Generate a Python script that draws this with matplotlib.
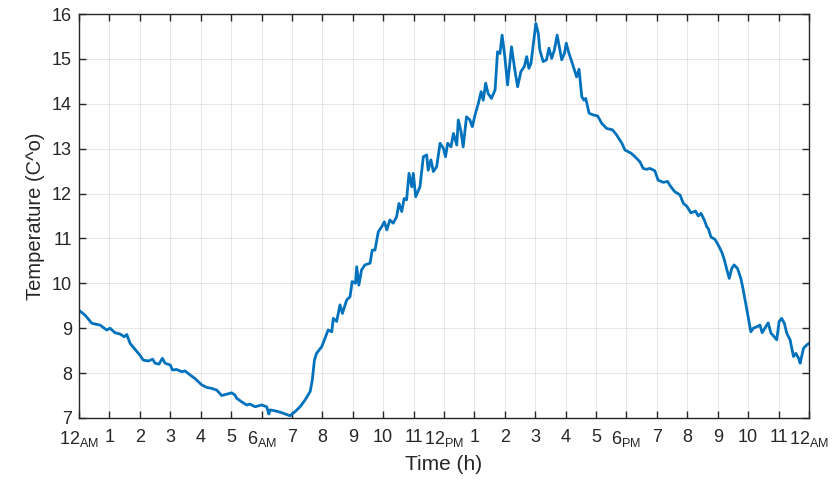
import matplotlib.pyplot as plt
import numpy as np

plt.rcParams['font.family'] = ['Liberation Sans', 'DejaVu Sans']
plt.rcParams['mathtext.fontset'] = 'custom'
plt.rcParams['mathtext.rm'] = 'Liberation Sans'

# time of day (hours) and temperature
heures = [
    0.0, 0.2, 0.42, 0.69, 0.91, 1.02, 1.18, 1.35, 1.49, 1.57, 1.68, 1.84,
    2.0, 2.11, 2.28, 2.42, 2.5, 2.63, 2.74, 2.83, 3.0, 3.07, 3.21, 3.38,
    3.48, 3.65, 3.81, 3.92, 4.03, 4.2, 4.36, 4.53, 4.69, 4.86, 5.02, 5.13,
    5.18, 5.35, 5.51, 5.62, 5.79, 6.0, 6.17, 6.24, 6.28, 6.44, 6.61, 6.77,
    6.94, 7.1, 7.27, 7.43, 7.6, 7.67, 7.74, 7.81, 7.98, 8.09, 8.19, 8.31,
    8.36, 8.47, 8.58, 8.66, 8.8, 8.91, 8.98, 9.09, 9.13, 9.2, 9.29, 9.4,
    9.57, 9.64, 9.73, 9.84, 9.95, 10.04, 10.12, 10.22, 10.33, 10.44, 10.52,
    10.61, 10.69, 10.77, 10.85, 10.94, 10.99, 11.07, 11.21, 11.32, 11.43,
    11.48, 11.57, 11.65, 11.76, 11.87, 11.98, 12.05, 12.12, 12.23, 12.31,
    12.42, 12.47, 12.56, 12.63, 12.74, 12.85, 12.93, 13.02, 13.13, 13.22,
    13.29, 13.37, 13.45, 13.56, 13.68, 13.76, 13.84, 13.91, 14.0, 14.09,
    14.22, 14.33, 14.42, 14.53, 14.64, 14.72, 14.79, 14.86, 14.94, 15.02,
    15.1, 15.15, 15.26, 15.37, 15.45, 15.54, 15.63, 15.72, 15.79, 15.87,
    15.96, 16.02, 16.11, 16.2, 16.31, 16.36, 16.44, 16.53, 16.6, 16.66,
    16.77, 16.91, 17.05, 17.19, 17.35, 17.54, 17.68, 17.85, 17.95, 18.15,
    18.28, 18.44, 18.55, 18.66, 18.77, 18.93, 19.04, 19.21, 19.35, 19.46,
    19.59, 19.76, 19.87, 19.98, 20.12, 20.27, 20.36, 20.45, 20.56, 20.64,
    20.69, 20.78, 20.91, 21.02, 21.13, 21.22, 21.29, 21.38, 21.46, 21.54,
    21.65, 21.76, 21.84, 21.92, 22.0, 22.09, 22.17, 22.28, 22.39, 22.46,
    22.55, 22.66, 22.75, 22.86, 22.94, 23.02, 23.1, 23.19, 23.27, 23.38,
    23.49, 23.57, 23.66, 23.71, 23.82, 23.93, 24.0,
]
temperature = [
    9.40, 9.29, 9.11, 9.07, 8.96, 9.00, 8.90, 8.87, 8.81, 8.86, 8.66, 8.53,
    8.40, 8.29, 8.27, 8.31, 8.22, 8.20, 8.33, 8.22, 8.18, 8.07, 8.08, 8.03,
    8.05, 7.96, 7.88, 7.81, 7.74, 7.68, 7.66, 7.62, 7.50, 7.53, 7.56, 7.51,
    7.44, 7.36, 7.29, 7.31, 7.25, 7.29, 7.25, 7.09, 7.18, 7.16, 7.13, 7.09,
    7.05, 7.14, 7.25, 7.40, 7.59, 7.85, 8.29, 8.44, 8.59, 8.78, 8.96, 8.92,
    9.22, 9.15, 9.52, 9.33, 9.63, 9.70, 10.04, 10.00, 10.37, 9.96, 10.30, 10.41,
    10.45, 10.74, 10.74, 11.15, 11.26, 11.37, 11.19, 11.41, 11.34, 11.48, 11.78,
    11.60, 11.89, 11.86, 12.45, 12.15, 12.45, 11.93, 12.15, 12.82, 12.86,
    12.52, 12.75, 12.49, 12.60, 13.12, 13.01, 12.82, 13.12, 13.04, 13.34,
    13.08, 13.64, 13.38, 13.04, 13.71, 13.64, 13.49, 13.75, 14.01, 14.27,
    14.08, 14.46, 14.23, 14.12, 14.31, 15.16, 15.12, 15.53, 15.05, 14.42,
    15.27, 14.75, 14.38, 14.72, 14.83, 15.05, 14.79, 14.90, 15.35, 15.79,
    15.57, 15.20, 14.94, 14.98, 15.24, 15.01, 15.20, 15.53, 15.27, 14.98,
    15.12, 15.35, 15.12, 14.94, 14.71, 14.60, 14.77, 14.16, 14.08, 14.12,
    13.79, 13.75, 13.73, 13.56, 13.45, 13.42, 13.30, 13.12, 12.97, 12.90,
    12.82, 12.71, 12.56, 12.54, 12.56, 12.51, 12.30, 12.25, 12.27, 12.15,
    12.04, 11.97, 11.78, 11.72, 11.57, 11.61, 11.50, 11.56, 11.41, 11.26,
    11.22, 11.03, 10.98, 10.85, 10.70, 10.52, 10.33, 10.11, 10.33, 10.41,
    10.33, 10.11, 9.85, 9.55, 9.26, 8.92, 9.00, 9.03, 9.07, 8.90,
    9.00, 9.12, 8.89, 8.81, 8.74, 9.15, 9.22, 9.11, 8.89, 8.74,
    8.37, 8.44, 8.33, 8.22, 8.55, 8.63, 8.66,
]

etiquettes = ["12$_{\\mathrm{AM}}$", "1", "2", "3", "4", "5", "6$_{\\mathrm{AM}}$",
              "7", "8", "9", "10", "11", "12$_{\\mathrm{PM}}$", "1", "2", "3", "4",
              "5", "6$_{\\mathrm{PM}}$", "7", "8", "9", "10", "11", "12$_{\\mathrm{AM}}$"]

fig = plt.figure(figsize=(8.39, 4.8), dpi=100)
ax = fig.add_axes([0.0942, 0.1292, 0.87, 0.8416])

ax.plot(heures, temperature, color="#0072BD", linewidth=2)

ax.set_xlim(0, 24)
ax.set_ylim(7, 16)
ax.set_xticks(range(25))
ax.set_xticklabels(etiquettes)
ax.set_yticks(range(7, 17))
ax.grid(True, color="#262626", alpha=0.1, linewidth=0.8)
ax.tick_params(direction="in", top=True, right=True, length=5, width=1,
               color="#262626", labelsize=13, labelcolor="#262626")
ax.tick_params(axis="x", pad=8)
ax.tick_params(axis="y", pad=5)
for s in ax.spines.values():
    s.set_color("#262626")
    s.set_linewidth(1)

ax.set_xlabel("Time (h)", fontsize=15, color="#262626", labelpad=4)
ax.set_ylabel("Temperature (C^o)", fontsize=14.5, color="#262626", labelpad=5)

fig.savefig("out.png", dpi=100)
